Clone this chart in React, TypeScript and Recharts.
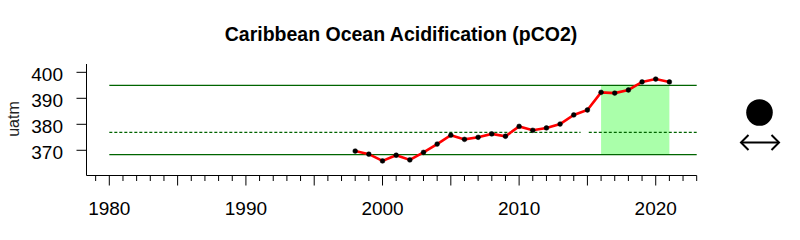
import React from 'react';
import {
  ComposedChart,
  Line,
  XAxis,
  YAxis,
  ReferenceLine,
  ReferenceArea,
} from 'recharts';

const years = [
  1998, 1999, 2000, 2001, 2002, 2003, 2004, 2005, 2006, 2007, 2008, 2009,
  2010, 2011, 2012, 2013, 2014, 2015, 2016, 2017, 2018, 2019, 2020, 2021,
];
const pco2 = [
  369.7, 368.5, 365.9, 368.1, 366.3, 369.2, 372.4, 375.8, 374.2, 375.0, 376.3, 375.4,
  379.2, 377.7, 378.6, 380.1, 383.6, 385.5, 392.3, 392.0, 393.2, 396.3, 397.4, 396.3,
];
const xTickYears = [
  1979, 1980, 1981, 1982, 1983, 1984, 1985, 1986, 1987, 1988, 1989, 1990, 1991, 1992,
  1993, 1994, 1995, 1996, 1997, 1998, 1999, 2000, 2001, 2002, 2003, 2004, 2005, 2006,
  2007, 2008, 2009, 2010, 2011, 2012, 2013, 2014, 2015, 2016, 2017, 2018, 2019, 2020,
  2021, 2022, 2023,
];
const xLabelYears = [1980, 1990, 2000, 2010, 2020];
const yTicks = [370, 380, 390, 400];
const upperLimit = 395;
const meanLevel = 376.9;
const lowerLimit = 368.3;
const recentStart = 2016;
const recentEnd = 2021;
const lineStart = 1980;
const lineEnd = 2023;
const dottedGapStart = 2014.5;
const dottedGapEnd = 2015.1;

const rows = years.map((year, i) => ({ year, value: pco2[i] }));

const FONT = '"Liberation Sans", Arial, sans-serif';
const GREEN = '#006400';

const XTick = (props: any) => {
  const { x, y, payload } = props;
  const v = payload.value;
  const long = v % 5 === 0;
  return (
    <g>
      <line x1={x} x2={x} y1={y} y2={y + (long ? 10 : 5.5)} stroke="#000" strokeWidth={1} />
      {xLabelYears.includes(v) && (
        <text x={x} y={y + 39} textAnchor="middle" fontSize={19} fontFamily={FONT} fill="#000">
          {v}
        </text>
      )}
    </g>
  );
};

const YTick = (props: any) => {
  const { x, y, payload } = props;
  return (
    <g>
      <line x1={x - 10} x2={x} y1={y} y2={y} stroke="#000" strokeWidth={1} />
      <text x={x - 23.5} y={y + 8.5} textAnchor="end" fontSize={19} fontFamily={FONT} fill="#000">
        {payload.value}
      </text>
    </g>
  );
};

export default function App() {
  return (
    <div style={{ position: 'absolute', left: 0, top: 0, width: 800, height: 240, background: '#fff' }}>
      <ComposedChart
        width={800}
        height={240}
        data={rows}
        margin={{ top: 64, right: 103.3, bottom: 0, left: 0 }}
      >
        <XAxis
          type="number"
          dataKey="year"
          domain={[1978.33, 2023.0]}
          ticks={xTickYears}
          interval={0}
          allowDataOverflow
          tick={<XTick />}
          tickLine={false}
          tickSize={0}
          tickMargin={0}
          height={64.5}
          axisLine={{ stroke: '#000', strokeWidth: 1 }}
        />
        <YAxis
          type="number"
          domain={[360.3, 403.2]}
          ticks={yTicks}
          interval={0}
          allowDataOverflow
          tick={<YTick />}
          tickLine={false}
          tickSize={0}
          tickMargin={0}
          width={86.5}
          axisLine={{ stroke: '#000', strokeWidth: 1 }}
        />
        <ReferenceArea
          x1={recentStart}
          x2={recentEnd}
          y1={lowerLimit}
          y2={upperLimit}
          fill="#aaffaa"
          fillOpacity={1}
          stroke="none"
          ifOverflow="visible"
        />
        <ReferenceLine
          segment={[{ x: lineStart, y: upperLimit }, { x: lineEnd, y: upperLimit }]}
          stroke={GREEN}
          strokeWidth={1.2}
          ifOverflow="visible"
        />
        <ReferenceLine
          segment={[{ x: lineStart, y: lowerLimit }, { x: lineEnd, y: lowerLimit }]}
          stroke={GREEN}
          strokeWidth={1.2}
          ifOverflow="visible"
        />
        <ReferenceLine
          segment={[{ x: lineStart, y: meanLevel }, { x: dottedGapStart, y: meanLevel }]}
          stroke={GREEN}
          strokeWidth={1.2}
          strokeDasharray="3 2"
          ifOverflow="visible"
        />
        <ReferenceLine
          segment={[{ x: dottedGapEnd, y: meanLevel }, { x: lineEnd, y: meanLevel }]}
          stroke={GREEN}
          strokeWidth={1.2}
          strokeDasharray="3 2"
          ifOverflow="visible"
        />
        <Line
          type="linear"
          dataKey="value"
          stroke="#ff0000"
          strokeWidth={2.6}
          dot={{ r: 2.4, fill: '#000', stroke: '#000', strokeWidth: 0.5 }}
          activeDot={false}
          isAnimationActive={false}
        />
      </ComposedChart>
      <svg
        width={800}
        height={240}
        style={{ position: 'absolute', left: 0, top: 0, pointerEvents: 'none' }}
      >
        <text x={401} y={41} textAnchor="middle" fontSize={19.5} fontWeight="bold" fontFamily={FONT} fill="#000">
          Caribbean Ocean Acidification (pCO2)
        </text>
        <text
          x={18.5}
          y={119}
          textAnchor="middle"
          fontSize={16}
          fontFamily={FONT}
          fill="#222"
          transform="rotate(-90 18.5 119)"
        >
          uatm
        </text>
        <circle cx={759.5} cy={112.5} r={13.3} fill="#000" />
        <line x1={741} x2={779} y1={142.5} y2={142.5} stroke="#000" strokeWidth={2} />
        <path d="M748.5,135 L741,142.5 L748.5,150" fill="none" stroke="#000" strokeWidth={2} />
        <path d="M771.5,135 L779,142.5 L771.5,150" fill="none" stroke="#000" strokeWidth={2} />
      </svg>
    </div>
  );
}
